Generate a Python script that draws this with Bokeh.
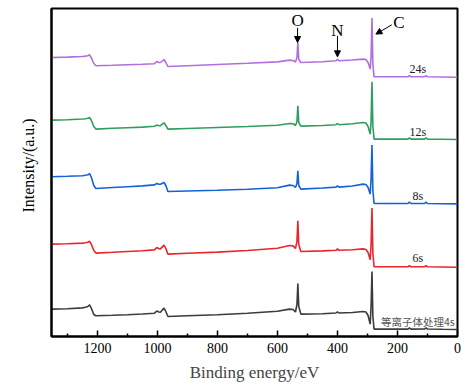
from bokeh.plotting import figure
from bokeh.models import Range1d, FixedTicker, Arrow, NormalHead, Label, ColumnDataSource, Title
from bokeh.core.properties import value
from bokeh.embed import file_html
from bokeh.resources import INLINE

# Binding energy (eV) sample points
energy = [1352, 1300, 1250, 1240, 1232, 1226, 1220, 1212, 1205, 1150, 1100, 1050, 1010, 1002, 995, 990,
          978, 972, 965, 900, 800, 700, 600, 560, 548, 540, 535, 532, 529, 522, 450, 405, 400, 395, 350,
          315, 305, 298, 291, 288, 285, 282, 278, 200, 165, 160, 155, 110, 105, 100, 50, 0]

s4 = [27.4, 27.8, 28.6, 29.2, 30.0, 31.7, 28.0, 22.0, 20.7, 21.2, 21.8, 22.5, 23.3, 25.5, 24.5, 24.3,
      28.4, 25.0, 20.0, 20.7, 21.8, 23.2, 25.2, 27.4, 27.0, 24.5, 32.0, 53.0, 30.0, 22.4, 22.8, 23.5, 24.7, 23.5, 24.0,
      25.0, 24.5, 21.0, 12.4, 30.0, 65.0, 20.0, 7.4, 7.4, 7.4, 8.6, 7.4, 7.5, 8.6, 7.5, 7.2, 7.0]
s6 = [92.4, 92.8, 93.4, 93.8, 94.2, 95.2, 92.0, 86.0, 83.4, 84.2, 85.0, 85.8, 86.6, 89.0, 87.8, 87.6,
      91.4, 88.0, 82.4, 83.2, 84.4, 86.0, 88.2, 91.0, 90.6, 88.0, 95.0, 115.7, 92.0, 85.0, 85.6, 86.2, 87.6, 86.2, 86.8,
      87.6, 87.0, 84.0, 76.7, 92.0, 128.4, 83.0, 69.7, 69.7, 69.7, 71.0, 69.7, 69.7, 71.0, 69.7, 69.5, 69.3]
s8 = [159.7, 160.2, 160.8, 161.2, 161.8, 162.8, 159.0, 151.0, 148.0, 149.0, 149.8, 150.6, 151.6, 153.0, 152.2, 152.2,
      154.0, 151.0, 145.0, 145.5, 146.3, 147.2, 148.8, 151.4, 151.0, 149.0, 153.0, 165.7, 151.0, 147.4, 148.5, 149.4, 150.6, 149.4, 150.5,
      152.4, 152.0, 149.0, 142.4, 158.0, 191.4, 146.0, 133.0, 133.0, 133.0, 134.3, 133.0, 133.0, 134.3, 133.0, 132.8, 132.6]
s12 = [216.4, 216.8, 217.5, 217.8, 218.2, 219.0, 216.0, 210.0, 207.4, 208.2, 208.8, 209.4, 210.2, 211.4, 210.8, 210.8,
       213.7, 211.0, 207.4, 208.0, 209.0, 210.0, 211.2, 213.0, 212.8, 211.0, 215.0, 230.7, 214.0, 210.4, 211.0, 211.8, 213.0, 211.8, 212.8,
       214.0, 213.5, 210.0, 202.4, 215.0, 254.7, 210.0, 197.4, 197.4, 197.4, 198.7, 197.4, 197.4, 198.7, 197.4, 197.2, 197.0]
s24 = [279.0, 279.4, 280.0, 280.4, 280.8, 281.7, 278.5, 273.0, 270.7, 271.2, 271.7, 272.2, 272.8, 275.0, 274.0, 274.0,
       277.0, 274.0, 270.0, 270.8, 272.0, 273.2, 274.6, 276.4, 276.0, 274.5, 279.0, 294.0, 277.0, 274.0, 274.8, 275.8, 277.2, 275.8, 276.5,
       277.4, 277.0, 274.0, 267.4, 280.0, 318.4, 272.0, 259.7, 259.7, 259.7, 261.0, 259.7, 259.7, 261.0, 259.7, 259.5, 259.3]

series = [s4, s6, s8, s12, s24]
colors = ["#3c3c3c", "#e8262d", "#1463d6", "#2f9e5e", "#b06fdc"]
sample_labels = ["等离子体处理4s", "6s", "8s", "12s", "24s"]
sample_label_x = [132, 132, 132, 132, 132]
sample_label_y = [14.7, 78.7, 140.7, 205.0, 267.4]

major_ticks = [0, 200, 400, 600, 800, 1000, 1200]
minor_ticks = [100, 300, 500, 700, 900, 1100, 1300]

peak_names = ["O", "N", "C"]
peak_text_x = [533, 400, 195]
peak_text_y = [315.7, 305.7, 314.0]
arrow_x0 = [533, 400, 219]
arrow_y0 = [308.7, 300.7, 311.7]
arrow_x1 = [533, 400, 272]
arrow_y1 = [294.0, 279.7, 302.4]

SERIF = "Liberation Serif"

p = figure(width=470, height=389, x_range=Range1d(1353, 0), y_range=Range1d(0, 328),
           output_backend="svg", toolbar_location=None,
           min_border_left=51, min_border_right=13, min_border_top=8, min_border_bottom=53)
p.xgrid.visible = False
p.ygrid.visible = False
p.outline_line_color = "black"
p.outline_line_width = 2
p.background_fill_color = "white"
p.border_fill_color = "white"

for ys, c in zip(series, colors):
    p.line(energy, ys, line_color=c, line_width=1.6)

src = ColumnDataSource(dict(x=sample_label_x[1:], y=sample_label_y[1:], t=sample_labels[1:]))
p.text(x="x", y="y", text="t", source=src, text_font=value(SERIF), text_font_size="12px",
       text_align="center", text_baseline="middle", text_color="#222222")
src2 = ColumnDataSource(dict(x=sample_label_x[:1], y=sample_label_y[:1], t=sample_labels[:1]))
p.text(x="x", y="y", text="t", source=src2, text_font=value("Noto Sans CJK SC"), text_font_size="10.5px",
       text_align="center", text_baseline="middle", text_color="#555555")

for name, tx, ty, ax0, ay0, ax1, ay1 in zip(peak_names, peak_text_x, peak_text_y, arrow_x0, arrow_y0, arrow_x1, arrow_y1):
    p.add_layout(Label(x=tx, y=ty, text=name, text_font=SERIF, text_font_size="17px",
                       text_align="center", text_baseline="middle", text_color="black"))
    p.add_layout(Arrow(x_start=ax0, y_start=ay0, x_end=ax1, y_end=ay1, line_color="black", line_width=1,
                       end=NormalHead(size=6, fill_color="black", line_color="black")))

xa = p.xaxis[0]
xa.ticker = FixedTicker(ticks=major_ticks, minor_ticks=minor_ticks)
xa.axis_line_width = 2
xa.major_tick_in = 6
xa.major_tick_out = 0
xa.minor_tick_in = 3
xa.minor_tick_out = 0
xa.major_tick_line_width = 1.5
xa.minor_tick_line_width = 1.5
xa.major_label_text_font = SERIF
xa.major_label_text_font_size = "14px"
xa.major_label_text_color = "black"
xa.major_label_standoff = 6
xa.axis_label = "Binding energy/eV"
xa.axis_label_text_font = SERIF
xa.axis_label_text_font_size = "17px"
xa.axis_label_text_font_style = "normal"
xa.axis_label_standoff = 7

ya = p.yaxis[0]
ya.ticker = FixedTicker(ticks=[])
ya.axis_line_width = 2
ya.major_tick_line_color = None
ya.minor_tick_line_color = None

p.add_layout(Title(text="Intensity/(a.u.)", align="left", offset=124, standoff=29,
                   text_font=SERIF, text_font_size="16px", text_font_style="normal",
                   text_color="black"), "left")

open("out.html", "w").write(file_html(p, INLINE))
